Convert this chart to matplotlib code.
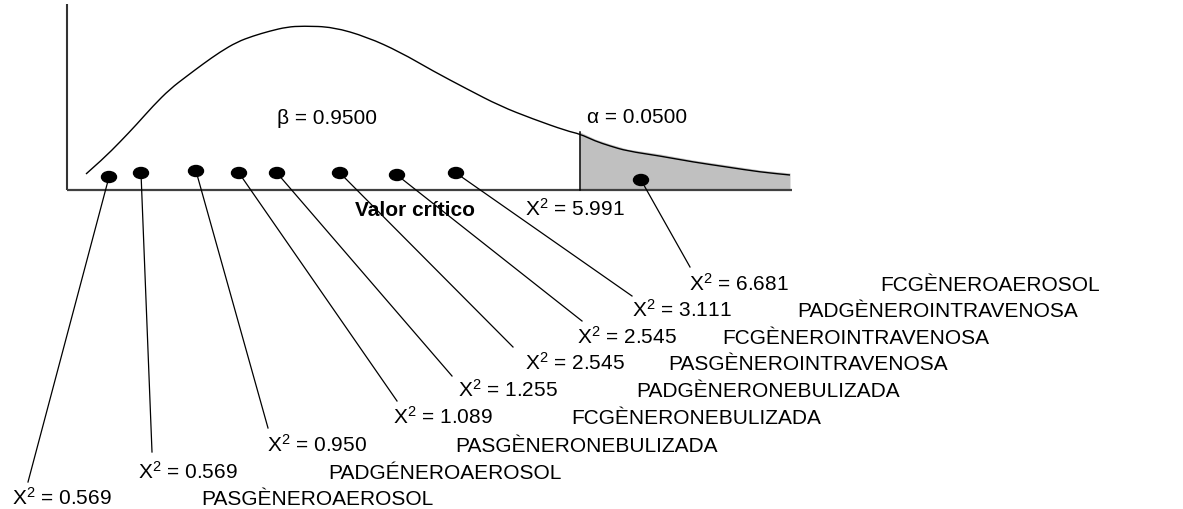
import matplotlib
matplotlib.use('Agg')
import matplotlib.pyplot as plt
from matplotlib.patches import Ellipse, PathPatch
from matplotlib.path import Path

# ---------------------------------------------------------------------------
# Data (in pixel space of the 1183x510 picture)
# ---------------------------------------------------------------------------

# density curve, as drawn
curve_x = [86, 103, 120, 137, 153, 170, 187, 203, 220, 237, 253, 270, 287, 303,
           333, 367, 400, 433, 467, 500, 533, 567, 580, 595, 610, 627, 660, 693,
           727, 760, 790]
curve_y = [175, 160, 143, 125, 107, 90, 77, 65, 53, 43, 37, 32, 28, 27,
           28, 38, 53, 72, 90, 107, 120, 132, 135, 142, 147, 152, 157, 163,
           168, 173, 176]

beta_text = 'β = 0.9500'
alpha_text = 'α = 0.0500'
critical_value = 5.991

chi_values = ['6.681', '3.111', '2.545', '2.545', '1.255',
              '1.089', '0.950', '0.569', '0.569']
groups = ['FCGÈNEROAEROSOL', 'PADGÈNEROINTRAVENOSA', 'FCGÈNEROINTRAVENOSA',
          'PASGÈNEROINTRAVENOSA', 'PADGÈNERONEBULIZADA', 'FCGÈNERONEBULIZADA',
          'PASGÈNERONEBULIZADA', 'PADGÉNEROAEROSOL', 'PASGÈNEROAEROSOL']

# layout of the schematic
dot_x = [641, 456, 397, 340, 277, 239, 196, 141, 109]
dot_y = [181, 174, 176, 174, 174, 174, 172, 174, 178]
lead_x = [690, 632, 582, 513, 452, 397, 268, 152, 28]
lead_y = [268, 297, 322, 348, 377, 402, 429, 453, 483]
row_y = [284, 310, 337, 363, 390, 417, 445, 472, 498]   # text centre lines
val_x = [689, 632, 577, 525, 458, 393, 267, 138, 12]
name_x = [880, 797, 722, 668, 636, 571, 455, 328, 201]

AXIS_Y = 191
AXIS_X0, AXIS_X1 = 67, 792
CRIT_X = 580
HALF_CAP = 7   # centre line -> baseline, px


def smooth_path(xs, ys):
    """Quadratic bezier through the read points (points act as controls)."""
    verts = [(xs[0], ys[0])]
    codes = [Path.MOVETO]
    for i in range(1, len(xs) - 1):
        mx = (xs[i] + xs[i + 1]) / 2
        my = (ys[i] + ys[i + 1]) / 2
        verts += [(xs[i], ys[i]), (mx, my)]
        codes += [Path.CURVE3, Path.CURVE3]
    verts.append((xs[-1], ys[-1]))
    codes.append(Path.LINETO)
    return Path(verts, codes)


plt.rcParams['font.family'] = ['Liberation Sans', 'DejaVu Sans']
plt.rcParams['mathtext.fontset'] = 'custom'
plt.rcParams['mathtext.rm'] = 'Liberation Sans'
plt.rcParams['mathtext.default'] = 'regular'

fig = plt.figure(figsize=(11.83, 5.10), dpi=100)
ax = fig.add_axes([0, 0, 1, 1])
ax.set_xlim(0, 1183)
ax.set_ylim(510, 0)
ax.axis('off')

# axes of the sketch
ax.plot([AXIS_X0, AXIS_X0], [5, AXIS_Y], color='#333333', lw=1.5, solid_capstyle='butt')
ax.plot([AXIS_X0, AXIS_X1], [AXIS_Y, AXIS_Y], color='#404040', lw=1.6, solid_capstyle='butt')

# rejection region
tail = [i for i, x in enumerate(curve_x) if x >= CRIT_X]
tx = [curve_x[i] for i in tail]
ty = [curve_y[i] - 2 for i in tail]
ax.fill_between(tx, ty, AXIS_Y - 1, color='#c0c0c0', lw=0, zorder=1)

ax.add_patch(PathPatch(smooth_path(curve_x, curve_y), fill=False,
                       edgecolor='black', lw=1.0, zorder=3))
ax.plot([CRIT_X, CRIT_X], [133, AXIS_Y], color='black', lw=1.1, zorder=3)

fs = 15
ax.text(277, 117 + HALF_CAP, beta_text, fontsize=fs, va='baseline', ha='left')
ax.text(587, 116 + HALF_CAP, alpha_text, fontsize=fs, va='baseline', ha='left')
ax.text(355, 209 + HALF_CAP, 'Valor crítico', fontsize=fs, fontweight='bold',
        va='baseline', ha='left')
ax.text(525, 209 + HALF_CAP, f'X$^2$ = {critical_value:.3f}', fontsize=fs,
        va='baseline', ha='left')

for i in range(len(chi_values)):
    ax.plot([dot_x[i], lead_x[i]], [dot_y[i], lead_y[i]], color='black', lw=0.9, zorder=3)
    ax.add_patch(Ellipse((dot_x[i], dot_y[i]), 15, 11, color='black', zorder=4))
    base = row_y[i] + HALF_CAP
    ax.text(val_x[i], base, f'X$^2$ = {chi_values[i]}', fontsize=fs, va='baseline', ha='left')
    ax.text(name_x[i], base, groups[i], fontsize=fs, va='baseline', ha='left')

fig.savefig('out.png', dpi=100)
